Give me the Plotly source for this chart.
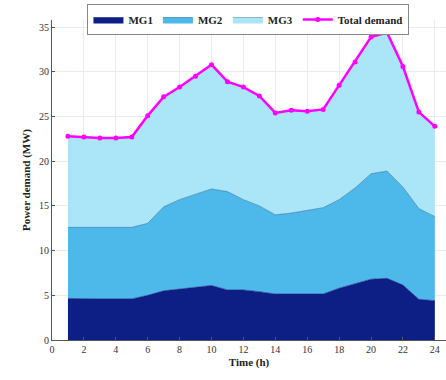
import plotly.graph_objects as go

hours = list(range(1, 25))
total_demand = [22.8, 22.7, 22.6, 22.6, 22.7, 25.1, 27.2, 28.3, 29.5, 30.8, 28.9, 28.3,
                27.3, 25.4, 25.7, 25.6, 25.8, 28.5, 31.1, 33.9, 34.4, 30.6, 25.5, 23.9]
mg12_top = [12.6, 12.6, 12.6, 12.6, 12.6, 13.05, 14.9, 15.7, 16.3, 16.9, 16.6, 15.7,
            15.0, 14.0, 14.2, 14.5, 14.8, 15.7, 17.0, 18.6, 18.9, 17.1, 14.7, 13.8]
mg1 = [4.65, 4.6, 4.6, 4.6, 4.6, 5.0, 5.5, 5.7, 5.9, 6.1, 5.6, 5.6,
       5.4, 5.15, 5.15, 5.15, 5.15, 5.8, 6.3, 6.8, 6.9, 6.15, 4.55, 4.4]
mg2 = [round(a - b, 2) for a, b in zip(mg12_top, mg1)]
mg3 = [round(a - b, 2) for a, b in zip(total_demand, mg12_top)]

x_ticks = list(range(0, 25, 2))
y_ticks = list(range(0, 36, 5))

FONT = "Liberation Serif"

fig = go.Figure()
fig.add_trace(go.Scatter(x=hours, y=mg1, name="MG1", stackgroup="s", mode="lines",
                         line=dict(color="#1a237e", width=0.6), fillcolor="#0d1f85"))
fig.add_trace(go.Scatter(x=hours, y=mg2, name="MG2", stackgroup="s", mode="lines",
                         line=dict(color="#2a6f9a", width=0.6), fillcolor="#4db8ea"))
fig.add_trace(go.Scatter(x=hours, y=mg3, name="MG3", stackgroup="s", mode="lines",
                         line=dict(color="#5a8fa8", width=0.6), fillcolor="#abe6f8"))
fig.add_trace(go.Scatter(x=hours, y=total_demand, name="Total demand", mode="lines+markers",
                         line=dict(color="#ff00ff", width=2.5),
                         marker=dict(color="#ff00ff", size=5, symbol="circle")))

fig.update_layout(
    width=446, height=380,
    margin=dict(l=52, r=0, t=20, b=40, autoexpand=False),
    paper_bgcolor="white", plot_bgcolor="white",
    font=dict(family=FONT, size=10, color="#333"),
    legend=dict(orientation="h", x=0.09, y=1.05, xanchor="left", yanchor="top",
                bordercolor="#888", borderwidth=1, bgcolor="white",
                traceorder="normal",
                font=dict(family=FONT, size=11, color="#222", weight="bold"),
                tracegroupgap=0),
    showlegend=True,
)
fig.update_xaxes(range=[0, 24.7], tickvals=x_ticks, showgrid=True, gridcolor="#ebebeb",
                 gridwidth=1, zeroline=False, showline=True, linecolor="#555", linewidth=1,
                 ticks="inside", ticklen=3, tickcolor="#555", automargin=False,
                 title=dict(text="Time (h)", font=dict(family=FONT, size=11, color="#222", weight="bold"),
                            standoff=4))
fig.update_yaxes(range=[0, 35.8], tickvals=y_ticks, showgrid=True, gridcolor="#ebebeb",
                 gridwidth=1, zeroline=False, showline=True, linecolor="#555", linewidth=1,
                 ticks="inside", ticklen=3, tickcolor="#555", automargin=False,
                 title=dict(text="Power demand (MW)", font=dict(family=FONT, size=11, color="#222", weight="bold"),
                            standoff=6))

fig.write_html("out.html", config={"displayModeBar": False},
               post_script="document.body.style.margin='0px';document.body.style.overflow='hidden';")
